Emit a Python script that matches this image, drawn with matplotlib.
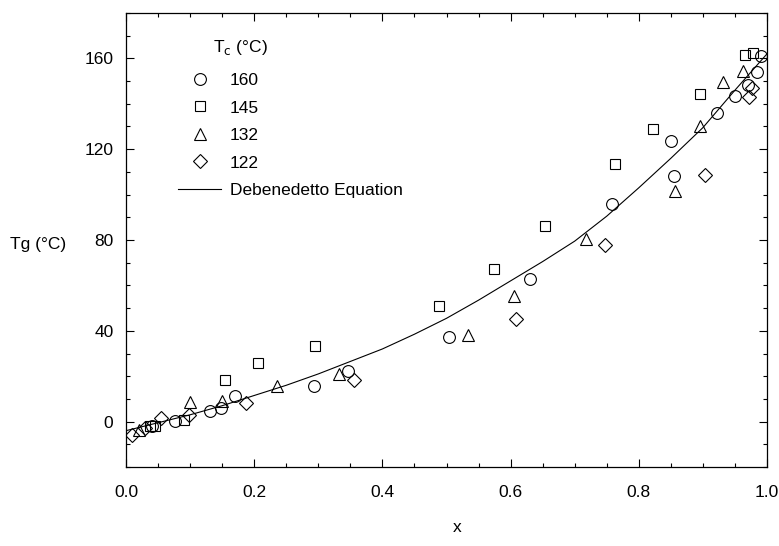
import numpy as np
import matplotlib
matplotlib.use("Agg")
import matplotlib.pyplot as plt
from matplotlib.ticker import MultipleLocator

plt.rcParams['font.family'] = ['Liberation Sans', 'DejaVu Sans']

# Tc = 160 C (circles)
x160 = [0.040, 0.077, 0.131, 0.148, 0.170, 0.294, 0.347, 0.504, 0.631, 0.758,
        0.851, 0.855, 0.922, 0.950, 0.970, 0.984, 0.991]
tg160 = [-1.8, 0.3, 4.5, 6.0, 11.1, 15.9, 22.5, 37.4, 63.0, 95.8,
         123.6, 108.0, 135.8, 143.4, 148.5, 153.8, 161.0]

# Tc = 145 C (squares)
x145 = [0.038, 0.046, 0.090, 0.154, 0.206, 0.295, 0.489, 0.574, 0.654, 0.763,
        0.822, 0.895, 0.966, 0.978]
tg145 = [-2.0, -2.0, 0.9, 18.4, 26.0, 33.3, 50.9, 67.1, 86.1, 113.4,
         129.1, 144.1, 161.5, 162.5]

# Tc = 132 C (triangles)
x132 = [0.020, 0.100, 0.149, 0.235, 0.333, 0.533, 0.605, 0.717, 0.857, 0.895,
        0.932, 0.963]
tg132 = [-3.5, 8.8, 9.2, 15.5, 21.0, 38.1, 55.4, 80.5, 101.7, 130.0,
         149.8, 154.4]

# Tc = 122 C (diamonds)
x122 = [0.009, 0.030, 0.054, 0.098, 0.187, 0.355, 0.608, 0.747, 0.903, 0.972, 0.976]
tg122 = [-6.0, -2.8, 1.8, 2.8, 8.2, 18.4, 45.0, 77.6, 108.8, 142.8, 147.0]

# Debenedetto equation curve
x_fit = [0.0, 0.05, 0.1, 0.15, 0.2, 0.25, 0.3, 0.35, 0.4, 0.45, 0.5,
         0.55, 0.6, 0.65, 0.7, 0.75, 0.8, 0.85, 0.9, 0.95, 1.0]
tg_fit = [-4.0, -0.5, 3.0, 7.0, 11.5, 16.0, 21.0, 26.5, 32.0, 38.5, 45.5,
          53.5, 62.0, 70.5, 79.5, 90.5, 103.0, 116.0, 129.5, 146.0, 162.0]

fs = 12.5

fig = plt.figure(figsize=(7.79, 5.46), dpi=100)
ax = fig.add_axes([126 / 779, 1 - 467 / 546, 641 / 779, 454 / 546])

mk = dict(linestyle='none', markerfacecolor='none', markeredgecolor='black',
          markeredgewidth=0.8)
ax.plot(x160, tg160, marker='o', markersize=8.5, label='160', **mk)
ax.plot(x145, tg145, marker='s', markersize=7.5, label='145', **mk)
ax.plot(x132, tg132, marker='^', markersize=8, label='132', **mk)
ax.plot(x122, tg122, marker='D', markersize=7, label='122', **mk)
ax.plot(x_fit, tg_fit, color='black', linewidth=0.8, label='Debenedetto Equation')

ax.set_xlim(0, 1.0)
ax.set_ylim(-20, 180)
ax.xaxis.set_major_locator(MultipleLocator(0.2))
ax.xaxis.set_minor_locator(MultipleLocator(0.05))
ax.yaxis.set_major_locator(MultipleLocator(40))
ax.yaxis.set_minor_locator(MultipleLocator(10))
ax.set_xticklabels([f'{v:.1f}' for v in ax.get_xticks()])
ax.tick_params(which='both', direction='in', top=True, right=True, width=0.8,
               labelsize=fs)
ax.tick_params(which='major', length=6)
ax.tick_params(which='minor', length=3)
ax.tick_params(axis='x', pad=13)
ax.tick_params(axis='y', pad=9)
for s in ax.spines.values():
    s.set_linewidth(0.9)

leg = ax.legend(loc='upper left', bbox_to_anchor=(0.081, 0.868), frameon=False,
                borderpad=0, borderaxespad=0, handlelength=2.5,
                handletextpad=0.5, labelspacing=0.71, fontsize=fs)
ax.text(0.135, 0.925, 'T$_\\mathrm{c}$ (°C)', transform=ax.transAxes,
        fontsize=fs, va='center', ha='left')

fig.text(10 / 779, 1 - 245 / 546, 'Tg (°C)', fontsize=fs, va='center', ha='left')
fig.text(457 / 779, 1 - 528 / 546, 'x', fontsize=fs, va='center', ha='center')

fig.savefig('out.png', dpi=100)
